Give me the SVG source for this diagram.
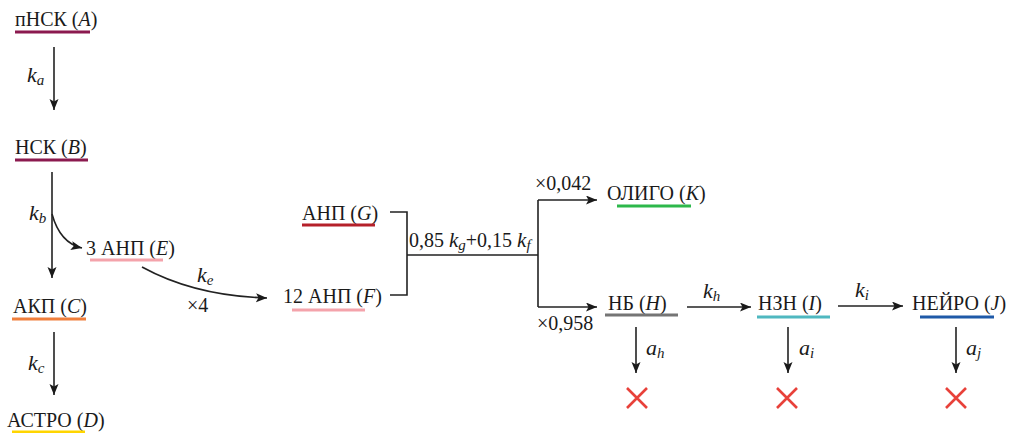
<svg xmlns="http://www.w3.org/2000/svg" width="1012" height="433" viewBox="0 0 1012 433">
<defs>
<marker id="ah" markerUnits="userSpaceOnUse" markerWidth="12" markerHeight="10" refX="11" refY="4.5" orient="auto">
<path d="M0,0 L11,4.5 L0,9 L2.5,4.5 z" fill="#1a1a1a"/>
</marker>
</defs>
<style>
.t{font-family:"Liberation Serif","DejaVu Serif",serif;font-size:20px;fill:#1a1a1a}
.i{font-style:italic}
.m{font-style:italic;font-size:22px}
.s{font-size:15px;font-style:italic}
.l{stroke:#222;stroke-width:1.6;fill:none}
.a{stroke:#222;stroke-width:1.6;fill:none;marker-end:url(#ah)}
.u{stroke-width:3;fill:none}
.x{stroke:#e8413a;stroke-width:2.6;fill:none}
</style>
<rect width="1012" height="433" fill="#fff"/>

<g id="A"><text class="t" x="15" y="26">пНСК (<tspan class="i">A</tspan>)</text><line class="u" x1="15" y1="32" x2="90" y2="32" stroke="#8b1a4f"/></g>
<g id="B"><text class="t" x="15" y="154">НСК (<tspan class="i">B</tspan>)</text><line class="u" x1="15" y1="160" x2="88" y2="160" stroke="#8b1a4f"/></g>
<g id="C"><text class="t" x="13" y="313">АКП (<tspan class="i">C</tspan>)</text><line class="u" x1="12" y1="319" x2="86" y2="319" stroke="#f07f3c"/></g>
<g id="D"><text class="t" x="7" y="427" font-size="19">АСТРО (<tspan class="i">D</tspan>)</text><line class="u" x1="12" y1="432" x2="85" y2="432" stroke="#ffd500"/></g>
<g id="E"><text class="t" x="86" y="255">3 АНП (<tspan class="i">E</tspan>)</text><line class="u" x1="90" y1="260" x2="163" y2="260" stroke="#f4a3ab"/></g>
<g id="F"><text class="t" x="283" y="303">12 АНП (<tspan class="i">F</tspan>)</text><line class="u" x1="292" y1="310" x2="365" y2="310" stroke="#f4a3ab"/></g>
<g id="G"><text class="t" x="302" y="220">АНП (<tspan class="i">G</tspan>)</text><line class="u" x1="302" y1="225" x2="375" y2="225" stroke="#b5202a"/></g>
<g id="K"><text class="t" x="607" y="200">ОЛИГО (<tspan class="i">K</tspan>)</text><line class="u" x1="617" y1="206" x2="691" y2="206" stroke="#2db84b"/></g>
<g id="H"><text class="t" x="608" y="310">НБ (<tspan class="i">H</tspan>)</text><line class="u" x1="605" y1="315" x2="678" y2="315" stroke="#757575"/></g>
<g id="I"><text class="t" x="758" y="310">НЗН (<tspan class="i">I</tspan>)</text><line class="u" x1="757" y1="317" x2="830" y2="317" stroke="#4fb8c0"/></g>
<g id="J"><text class="t" x="912" y="310">НЕЙРО (<tspan class="i">J</tspan>)</text><line class="u" x1="920" y1="317" x2="994" y2="317" stroke="#1f5aa8"/></g>

<g id="sinks">
<path class="x" d="M627,388 L647,408 M647,388 L627,408"/>
<path class="x" d="M777,388 L797,408 M797,388 L777,408"/>
<path class="x" d="M946,388 L966,408 M966,388 L946,408"/>
</g>

<g id="connectors">
<line class="a" x1="54" y1="47" x2="54" y2="110"/>
<line class="a" x1="52" y1="172" x2="52" y2="278"/>
<path class="a" d="M52,214 Q60,243 82,248"/>
<line class="a" x1="54" y1="332" x2="54" y2="395"/>
<path class="a" d="M142,267 Q195,296 267,298"/>
<path class="l" d="M390,212 L407,212 L407,295 L390,295 M407,255 L538,255 M538,200 L538,307"/>
<line class="a" x1="538" y1="200" x2="597" y2="200"/>
<line class="a" x1="538" y1="307" x2="597" y2="307"/>
<line class="a" x1="687" y1="307" x2="751" y2="307"/>
<line class="a" x1="838" y1="306" x2="903" y2="306"/>
<line class="a" x1="636" y1="327" x2="636" y2="373"/>
<line class="a" x1="788" y1="327" x2="788" y2="373"/>
<line class="a" x1="956" y1="327" x2="956" y2="373"/>
</g>

<g id="labels">
<text class="t" x="27" y="82"><tspan class="m">k</tspan><tspan class="s" dy="3">a</tspan></text>
<text class="t" x="29" y="220"><tspan class="m">k</tspan><tspan class="s" dy="3">b</tspan></text>
<text class="t" x="28" y="370"><tspan class="m">k</tspan><tspan class="s" dy="3">c</tspan></text>
<text class="t" x="197" y="282"><tspan class="m">k</tspan><tspan class="s" dy="3">e</tspan></text>
<text class="t" x="187" y="312" font-size="17">×4</text>
<text class="t" x="409" y="247" font-size="17">0,85 <tspan class="i" font-size="21">k</tspan><tspan class="s" font-size="14" dy="3">g</tspan><tspan dy="-3">+0,15 </tspan><tspan class="i" font-size="21">k</tspan><tspan class="s" font-size="14" dy="3">f</tspan></text>
<text class="t" x="535" y="190" font-size="17">×0,042</text>
<text class="t" x="537" y="330" font-size="17">×0,958</text>
<text class="t" x="703" y="298"><tspan class="m">k</tspan><tspan class="s" dy="3">h</tspan></text>
<text class="t" x="855" y="297"><tspan class="m">k</tspan><tspan class="s" dy="3">i</tspan></text>
<text class="t" x="646" y="355"><tspan class="m">a</tspan><tspan class="s" dy="3">h</tspan></text>
<text class="t" x="799" y="355"><tspan class="m">a</tspan><tspan class="s" dy="3">i</tspan></text>
<text class="t" x="966" y="355"><tspan class="m">a</tspan><tspan class="s" dy="3">j</tspan></text>
</g>
</svg>
